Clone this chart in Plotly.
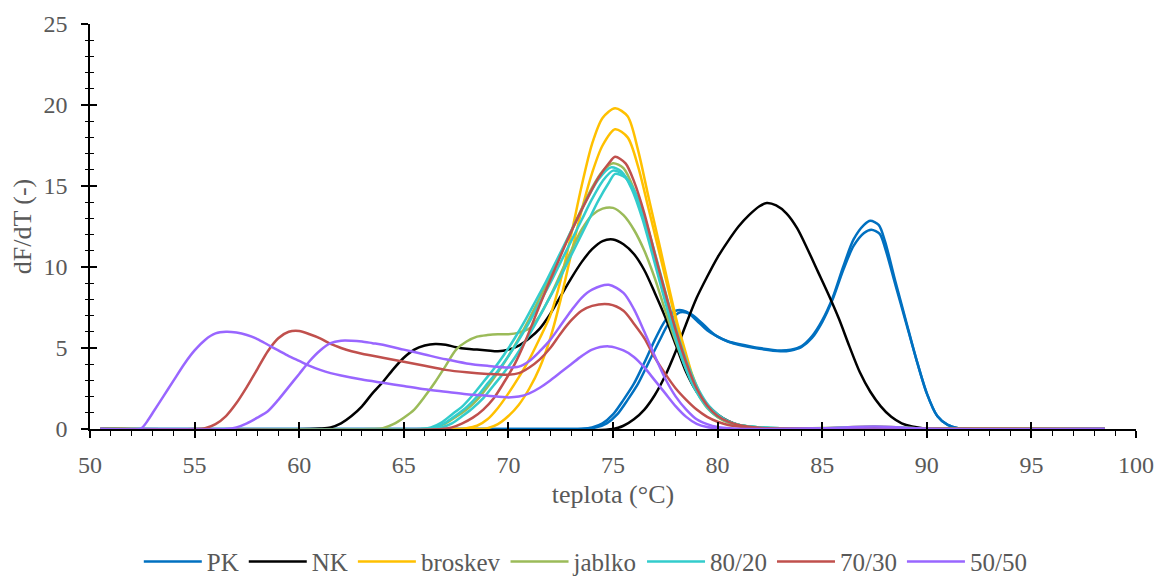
import plotly.graph_objects as go

# ---------------- data (temperature in °C, dF/dT) ----------------
PK1_T = [50.5, 73.0, 73.5, 74.0, 74.5, 75.0, 75.5, 76.0, 76.5, 77.0, 77.5, 78.0, 78.5, 79.0, 79.5, 80.0, 80.5, 81.0, 82.0, 83.0, 83.5, 84.0, 84.5, 85.0, 85.5, 86.0, 86.5, 87.0, 87.3, 87.7, 88.0, 88.5, 89.0, 89.5, 90.0, 90.5, 91.0, 91.5, 92.0, 98.5]
PK1_V = [0, 0, 0.02, 0.1, 0.35, 0.9, 1.8, 2.8, 4.1, 5.5, 6.7, 7.3, 7.25, 6.7, 6.1, 5.7, 5.4, 5.25, 5.0, 4.85, 4.9, 5.1, 5.7, 6.7, 8.1, 10.0, 11.7, 12.6, 12.85, 12.6, 11.6, 9.1, 6.7, 4.3, 2.2, 0.8, 0.25, 0.05, 0, 0]
PK2_T = [50.5, 73.2, 73.7, 74.2, 74.7, 75.2, 75.7, 76.2, 76.7, 77.2, 77.7, 78.2, 78.7, 79.2, 79.6, 80.0, 80.5, 81.0, 82.0, 83.0, 83.5, 84.0, 84.5, 85.0, 85.5, 86.0, 86.5, 87.0, 87.35, 87.75, 88.0, 88.5, 89.0, 89.5, 90.0, 90.5, 91.0, 91.5, 92.0, 98.5]
PK2_V = [0, 0, 0.02, 0.1, 0.35, 0.9, 1.8, 2.8, 4.1, 5.4, 6.6, 7.2, 7.1, 6.6, 6.1, 5.7, 5.4, 5.2, 4.95, 4.8, 4.85, 5.05, 5.6, 6.6, 8.0, 9.8, 11.3, 12.1, 12.3, 12.05, 11.2, 8.9, 6.6, 4.3, 2.2, 0.8, 0.25, 0.05, 0, 0]

NK1_T = [50.5, 60.5, 61.0, 61.5, 62.0, 62.5, 63.0, 63.5, 64.0, 64.5, 65.0, 65.5, 66.0, 66.5, 67.0, 67.5, 68.0, 68.5, 69.0, 69.5, 70.0, 70.5, 71.0, 71.5, 72.0, 72.5, 73.0, 73.5, 74.0, 74.5, 75.0, 75.5, 76.0, 76.5, 77.0, 77.5, 78.0, 78.5, 79.0, 79.5, 80.0, 80.5, 81.0, 81.5, 82.0, 83.0, 98.5]
NK1_V = [0, 0, 0.03, 0.1, 0.35, 0.8, 1.4, 2.2, 2.9, 3.7, 4.4, 4.9, 5.15, 5.25, 5.2, 5.05, 4.95, 4.9, 4.85, 4.8, 4.9, 5.15, 5.6, 6.2, 7.1, 8.2, 9.3, 10.3, 11.1, 11.6, 11.7, 11.4, 10.8, 9.8, 8.4, 6.9, 5.2, 3.5, 2.3, 1.5, 0.9, 0.5, 0.25, 0.12, 0.05, 0, 0]
NK2_T = [50.5, 75.0, 75.5, 76.0, 76.5, 77.0, 77.5, 78.0, 78.5, 79.0, 79.5, 80.0, 80.5, 81.0, 81.5, 82.0, 82.35, 82.8, 83.3, 83.8, 84.3, 84.8, 85.3, 85.8, 86.3, 86.8, 87.3, 87.8, 88.3, 88.8, 89.3, 89.8, 90.3, 98.5]
NK2_V = [0, 0, 0.2, 0.6, 1.2, 2.1, 3.3, 4.8, 6.5, 8.1, 9.4, 10.6, 11.6, 12.5, 13.2, 13.75, 13.95, 13.8, 13.3, 12.4, 11.1, 9.7, 8.3, 6.8, 5.1, 3.5, 2.3, 1.4, 0.75, 0.35, 0.15, 0.05, 0, 0]

BROSKEV1_T = [50.5, 67.5, 68.0, 68.5, 69.0, 69.5, 70.0, 70.5, 71.0, 71.5, 72.0, 72.5, 73.0, 73.5, 74.0, 74.5, 75.1, 75.7, 76.2, 76.7, 77.25, 77.7, 78.06, 78.5, 78.8, 79.2, 79.6, 80.0, 80.5, 81.0, 81.5, 82.0, 83.0, 85.0, 87.5, 90.0, 98.5]
BROSKEV1_V = [0, 0, 0.05, 0.2, 0.6, 1.3, 2.2, 3.2, 4.3, 5.6, 7.0, 9.2, 12.0, 15.0, 17.6, 19.2, 19.8, 19.3, 17.2, 14.3, 11.2, 8.6, 6.6, 4.6, 3.3, 2.1, 1.3, 0.8, 0.45, 0.25, 0.15, 0.08, 0.03, 0.05, 0.12, 0.02, 0]
BROSKEV2_T = [50.5, 68.5, 69.0, 69.5, 70.0, 70.5, 71.0, 71.5, 72.0, 72.5, 73.0, 73.5, 74.0, 74.5, 75.1, 75.7, 76.2, 76.7, 77.25, 77.7, 78.06, 78.5, 78.8, 79.2, 79.6, 80.0, 80.5, 81.0, 81.5, 82.0, 83.0, 98.5]
BROSKEV2_V = [0, 0, 0.05, 0.3, 0.8, 1.5, 2.5, 3.8, 5.6, 8.0, 10.8, 13.5, 15.8, 17.5, 18.5, 18.0, 16.2, 13.6, 10.7, 8.3, 6.4, 4.4, 3.2, 2.0, 1.2, 0.75, 0.42, 0.24, 0.13, 0.07, 0.02, 0]

JABLKO1_T = [50.5, 66.0, 66.5, 67.0, 67.5, 68.0, 68.5, 69.0, 69.5, 70.0, 70.5, 71.0, 71.5, 72.0, 72.5, 73.0, 73.5, 74.0, 74.5, 75.0, 75.5, 76.0, 76.5, 77.0, 77.5, 78.0, 78.5, 79.0, 79.5, 80.0, 80.5, 81.0, 82.0, 83.0, 85.0, 87.5, 90.0, 98.5]
JABLKO1_V = [0, 0, 0.1, 0.35, 0.75, 1.2, 1.8, 2.6, 3.5, 4.5, 5.6, 6.8, 8.1, 9.4, 10.8, 12.2, 13.6, 14.9, 15.9, 16.4, 16.1, 14.8, 12.8, 10.4, 8.0, 5.8, 3.9, 2.4, 1.4, 0.8, 0.45, 0.25, 0.1, 0.04, 0.06, 0.15, 0.03, 0]
JABLKO2_T = [50.5, 63.5, 64.0, 64.5, 65.0, 65.5, 66.0, 66.5, 67.0, 67.5, 68.0, 68.5, 69.0, 69.5, 70.0, 70.5, 71.0, 71.5, 72.0, 72.5, 73.0, 73.5, 74.0, 74.5, 75.0, 75.5, 76.0, 76.5, 77.0, 77.5, 78.0, 78.5, 79.0, 79.5, 80.0, 80.5, 81.0, 82.0, 83.0, 98.5]
JABLKO2_V = [0, 0, 0.05, 0.3, 0.7, 1.2, 2.0, 2.9, 3.9, 4.9, 5.4, 5.7, 5.8, 5.85, 5.85, 5.95, 6.2, 7.0, 8.2, 9.6, 11.0, 12.3, 13.2, 13.6, 13.65, 13.2, 12.3, 11.0, 9.3, 7.3, 5.4, 3.7, 2.3, 1.3, 0.75, 0.4, 0.2, 0.07, 0, 0]

M8020_1_T = [50.5, 65.8, 66.3, 66.8, 67.3, 67.8, 68.3, 68.8, 69.3, 69.8, 70.3, 70.8, 71.3, 71.8, 72.3, 72.8, 73.3, 73.8, 74.3, 74.9, 75.4, 75.9, 76.4, 76.9, 77.4, 77.9, 78.4, 78.9, 79.4, 79.9, 80.5, 81.0, 82.0, 83.0, 85.0, 87.5, 90.0, 98.5]
M8020_1_V = [0, 0, 0.1, 0.4, 0.9, 1.4, 2.1, 2.9, 3.7, 4.6, 5.6, 6.7, 7.9, 9.1, 10.4, 11.7, 13.0, 14.3, 15.4, 16.15, 15.9, 14.8, 13.0, 10.7, 8.3, 6.0, 4.0, 2.5, 1.5, 0.85, 0.45, 0.25, 0.1, 0.04, 0.05, 0.12, 0.02, 0]
M8020_2_T = [50.5, 66.0, 66.5, 67.0, 67.5, 68.0, 68.5, 69.0, 69.5, 70.0, 70.5, 71.0, 71.5, 72.0, 72.5, 73.0, 73.5, 74.0, 74.5, 75.0, 75.5, 76.0, 76.5, 77.0, 77.5, 78.0, 78.5, 79.0, 79.5, 80.0, 80.5, 81.0, 82.0, 83.0, 98.5]
M8020_2_V = [0, 0, 0.1, 0.4, 0.85, 1.35, 2.0, 2.8, 3.6, 4.5, 5.5, 6.6, 7.8, 9.0, 10.3, 11.6, 12.9, 14.2, 15.3, 15.95, 15.7, 14.7, 12.9, 10.6, 8.2, 6.0, 4.0, 2.5, 1.5, 0.85, 0.45, 0.25, 0.1, 0.04, 0]
M8020_3_T = [50.5, 66.3, 66.8, 67.3, 67.8, 68.3, 68.8, 69.3, 69.8, 70.3, 70.8, 71.3, 71.8, 72.3, 72.8, 73.3, 73.8, 74.3, 74.8, 75.1, 75.6, 76.1, 76.6, 77.1, 77.6, 78.1, 78.6, 79.1, 79.6, 80.1, 80.6, 81.1, 82.0, 83.0, 98.5]
M8020_3_V = [0, 0, 0.1, 0.35, 0.8, 1.3, 1.9, 2.7, 3.5, 4.4, 5.4, 6.5, 7.7, 8.9, 10.2, 11.5, 12.8, 14.1, 15.2, 15.75, 15.5, 14.5, 12.7, 10.4, 8.0, 5.8, 3.9, 2.4, 1.4, 0.8, 0.42, 0.23, 0.1, 0.04, 0]

M7030_1_T = [50.5, 66.8, 67.3, 67.8, 68.3, 68.8, 69.3, 69.8, 70.3, 70.8, 71.3, 71.8, 72.3, 72.8, 73.3, 73.8, 74.3, 74.8, 75.1, 75.6, 76.0, 76.5, 77.0, 77.5, 78.0, 78.5, 79.0, 79.5, 80.0, 80.5, 81.0, 82.0, 83.0, 98.5]
M7030_1_V = [0, 0, 0.1, 0.35, 0.7, 1.2, 1.9, 2.9, 4.0, 5.4, 7.0, 8.6, 10.1, 11.6, 13.0, 14.3, 15.5, 16.4, 16.8, 16.4, 15.3, 13.3, 10.8, 8.4, 6.1, 4.1, 2.5, 1.45, 0.8, 0.45, 0.25, 0.08, 0.03, 0]
M7030_2_T = [50.5, 55.0, 55.5, 56.0, 56.5, 57.0, 57.5, 58.0, 58.5, 59.0, 59.5, 60.0, 60.5, 61.0, 61.5, 62.0, 62.5, 63.0, 64.0, 65.0, 66.0, 67.0, 68.0, 69.0, 70.0, 70.5, 71.0, 71.5, 72.0, 72.5, 73.0, 73.5, 74.0, 74.8, 75.5, 76.0, 76.5, 77.0, 77.5, 78.0, 78.5, 79.0, 79.5, 80.0, 80.5, 81.0, 82.0, 83.0, 98.5]
M7030_2_V = [0, 0, 0.05, 0.3, 0.8, 1.6, 2.6, 3.7, 4.8, 5.6, 6.0, 6.05, 5.85, 5.6, 5.25, 5.0, 4.8, 4.65, 4.4, 4.15, 3.9, 3.65, 3.5, 3.4, 3.35, 3.45, 3.8, 4.3, 5.0, 5.9, 6.7, 7.3, 7.6, 7.7, 7.3, 6.5, 5.6, 4.4, 3.4, 2.5, 1.8, 1.2, 0.75, 0.45, 0.25, 0.15, 0.05, 0, 0]

M5050_1_T = [50.5, 52.4, 52.8, 53.0, 53.5, 54.0, 54.5, 55.0, 55.5, 56.0, 56.5, 57.0, 57.5, 58.0, 58.5, 59.0, 59.5, 60.0, 60.5, 61.0, 61.5, 62.0, 63.0, 64.0, 65.0, 66.0, 67.0, 68.0, 69.0, 70.0, 70.5, 71.0, 71.5, 72.0, 72.5, 73.0, 73.5, 74.0, 74.8, 75.5, 76.0, 76.5, 77.0, 77.5, 78.0, 78.5, 79.0, 79.5, 80.0, 81.0, 85.0, 87.5, 90.0, 98.5]
M5050_1_V = [0, 0, 0.6, 1.0, 2.0, 3.0, 4.0, 4.85, 5.5, 5.9, 6.0, 5.95, 5.8, 5.55, 5.2, 4.85, 4.5, 4.2, 3.9, 3.65, 3.45, 3.3, 3.05, 2.85, 2.65, 2.45, 2.3, 2.15, 2.05, 1.95, 2.0, 2.2, 2.55, 3.0, 3.5, 4.0, 4.5, 4.9, 5.1, 4.85, 4.45, 3.8, 3.0, 2.2, 1.4, 0.75, 0.32, 0.12, 0.04, 0, 0.05, 0.15, 0.02, 0]
M5050_2_T = [50.5, 56.5, 57.0, 57.5, 58.0, 58.5, 59.0, 59.5, 60.0, 60.5, 61.0, 61.5, 62.0, 62.5, 63.0, 63.5, 64.0, 65.0, 66.0, 67.0, 68.0, 69.0, 70.0, 70.5, 71.0, 71.5, 72.0, 72.5, 73.0, 73.5, 74.0, 74.8, 75.5, 76.0, 76.5, 77.0, 77.5, 78.0, 78.5, 79.0, 79.5, 80.0, 80.5, 81.0, 98.5]
M5050_2_V = [0, 0, 0.1, 0.35, 0.7, 1.1, 1.8, 2.6, 3.4, 4.2, 4.85, 5.3, 5.45, 5.45, 5.4, 5.3, 5.2, 4.9, 4.6, 4.3, 4.05, 3.9, 3.8, 3.85, 4.2, 4.8, 5.5, 6.4, 7.3, 8.1, 8.6, 8.9, 8.4, 7.4, 6.0, 4.5, 3.1, 2.0, 1.2, 0.6, 0.3, 0.12, 0.05, 0, 0]

SERIES_NAMES = ["PK", "NK", "broskev", "jablko", "80/20", "70/30", "50/50"]
SERIES_COLORS = ["#0070C0", "#000000", "#FFC000", "#9BBB59", "#33CCCC", "#C0504D", "#9966FF"]
SERIES_CURVES = [
    [(PK1_T, PK1_V), (PK2_T, PK2_V)],
    [(NK1_T, NK1_V), (NK2_T, NK2_V)],
    [(BROSKEV1_T, BROSKEV1_V), (BROSKEV2_T, BROSKEV2_V)],
    [(JABLKO1_T, JABLKO1_V), (JABLKO2_T, JABLKO2_V)],
    [(M8020_1_T, M8020_1_V), (M8020_2_T, M8020_2_V), (M8020_3_T, M8020_3_V)],
    [(M7030_1_T, M7030_1_V), (M7030_2_T, M7030_2_V)],
    [(M5050_1_T, M5050_1_V), (M5050_2_T, M5050_2_V)],
]

X_TICKS = [50, 55, 60, 65, 70, 75, 80, 85, 90, 95, 100]
Y_TICKS = [0, 5, 10, 15, 20, 25]

FONT = "Liberation Serif, Times New Roman, serif"
TEXT_COLOR = "#595959"
FS = 24
FS_TITLE = 26
FS_LEGEND = 25

fig = go.Figure()
for name, color, curves in zip(SERIES_NAMES, SERIES_COLORS, SERIES_CURVES):
    for i, (t, v) in enumerate(curves):
        fig.add_trace(go.Scatter(
            x=t, y=v, mode="lines", name=name, legendgroup=name,
            showlegend=(i == 0),
            line=dict(color=color, width=2.5, shape="spline", smoothing=0.8),
            hoverinfo="skip",
        ))

axis_common = dict(showgrid=False, zeroline=False, linecolor="black", linewidth=1.5,
                   tickcolor="black", tickwidth=1.5, automargin=False)

fig.update_layout(
    width=1158, height=576,
    margin=dict(l=90, r=22, t=24, b=147, autoexpand=False),
    paper_bgcolor="white", plot_bgcolor="white",
    font=dict(family=FONT, size=FS, color=TEXT_COLOR),
    xaxis=dict(range=[50, 100], tickvals=X_TICKS, ticks="outside", ticklen=7,
               ticklabelstandoff=6,
               minor=dict(dtick=1, ticks="outside", ticklen=5, tickcolor="black", tickwidth=1.2),
               title=dict(text="teplota (°C)", standoff=8, font=dict(family=FONT, size=FS_TITLE, color=TEXT_COLOR)),
               tickfont=dict(family=FONT, size=FS, color=TEXT_COLOR), **axis_common),
    yaxis=dict(range=[0, 25], tickvals=Y_TICKS, ticks="outside", ticklen=7,
               ticklabelstandoff=9,
               minor=dict(dtick=1, ticks="outside", ticklen=3, tickcolor="black", tickwidth=1.2),
               title=dict(text="dF/dT (-)", standoff=4, font=dict(family=FONT, size=FS_TITLE, color=TEXT_COLOR)),
               tickfont=dict(family=FONT, size=FS, color=TEXT_COLOR), **axis_common),
    xaxis2=dict(overlaying="x", matches="x", range=[50, 100], tickvals=X_TICKS, ticks="inside",
                ticklen=7, tickcolor="black", tickwidth=1.5, showticklabels=False,
                showgrid=False, zeroline=False, showline=False, side="bottom"),
    yaxis2=dict(overlaying="y", matches="y", range=[0, 25], tickvals=Y_TICKS, ticks="inside",
                ticklen=7, tickcolor="black", tickwidth=1.5, showticklabels=False,
                minor=dict(dtick=1, ticks="inside", ticklen=4, tickcolor="black", tickwidth=1.2),
                showgrid=False, zeroline=False, showline=False, side="left"),
    legend=dict(orientation="h", x=0.474, xanchor="center", y=-0.328, yanchor="middle",
                font=dict(family=FONT, size=FS_LEGEND, color=TEXT_COLOR), itemwidth=58,
                bgcolor="rgba(0,0,0,0)", tracegroupgap=0),
    showlegend=True,
)
# invisible trace to activate overlay axes
fig.add_trace(go.Scatter(x=[50], y=[0], xaxis="x2", yaxis="y2", mode="markers",
                         marker=dict(opacity=0), showlegend=False, hoverinfo="skip"))

fig.write_html("out.html")
